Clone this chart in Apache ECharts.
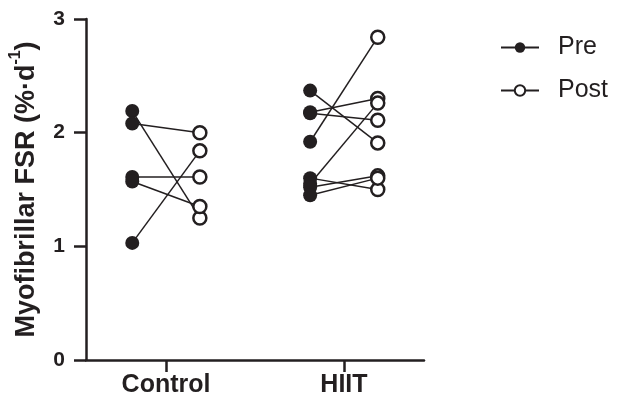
<!DOCTYPE html>
<html>
<head>
<meta charset="utf-8">
<script src="https://cdn.jsdelivr.net/npm/echarts@6/dist/echarts.min.js"></script>
<style>
  html, body { margin: 0; padding: 0; background: #fff; }
  #main { width: 617px; height: 406px; }
</style>
</head>
<body>
<div id="main"></div>
<script>
// groups on the x axis (Control at 1, HIIT at 2)
const categories = ['Control', 'HIIT'];
const yTicks = [0, 1, 2, 3];

// paired values, same index = same subject
const controlPre = [2.19, 2.08, 1.61, 1.57, 1.03];
const controlPost = [1.25, 2.00, 1.61, 1.35, 1.84];
const hiitPre = [2.37, 2.18, 2.17, 1.92, 1.60, 1.55, 1.52, 1.45];
const hiitPost = [1.91, 2.30, 2.11, 2.84, 1.50, 2.26, 1.62, 1.60];

const ink = '#231f20';
const off = 0.19;

var chartDom = document.getElementById('main');
var myChart = echarts.init(chartDom);

const groups = [
  { x: 1, pre: controlPre, post: controlPost },
  { x: 2, pre: hiitPre, post: hiitPost }
];

let prePts = [], postPts = [], links = [];
groups.forEach(g => {
  g.pre.forEach((v, i) => {
    const a = [g.x - off, v], b = [g.x + off, g.post[i]];
    prePts.push(a);
    postPts.push(b);
    links.push({
      type: 'line',
      data: [a, b],
      symbol: 'none',
      silent: true,
      z: 1,
      lineStyle: { color: ink, width: 1.5 }
    });
  });
});

var option = {
  backgroundColor: '#FFF',
  animation: false,
  grid: { left: 83, right: 193, top: 19, bottom: 46 },
  legend: {
    data: ['Pre', 'Post'],
    orient: 'vertical',
    left: 495,
    top: 30,
    itemWidth: 38,
    itemHeight: 13,
    itemGap: 18,
    lineStyle: { color: ink, width: 2, opacity: 1 },
    textStyle: { fontFamily: 'Liberation Sans', fontSize: 25, color: ink, padding: [0, 0, 0, 14] }
  },
  xAxis: {
    type: 'value',
    min: 0.55,
    max: 2.45,
    splitLine: { show: false },
    axisLine: { onZero: false, lineStyle: { color: ink, width: 2.5 } },
    axisTick: { show: true, customValues: [1, 2], length: 12, lineStyle: { color: ink, width: 2.5 } },
    axisLabel: {
      customValues: [1, 2],
      formatter: v => categories[Math.round(v) - 1],
      fontFamily: 'Liberation Sans', fontWeight: 'bold', fontSize: 25, color: ink, margin: 13
    }
  },
  yAxis: {
    type: 'value',
    min: yTicks[0],
    max: yTicks[yTicks.length - 1],
    interval: 1,
    splitLine: { show: false },
    axisLine: { show: true, lineStyle: { color: ink, width: 2.5 } },
    axisTick: { show: true, length: 12, lineStyle: { color: ink, width: 2.5 } },
    axisLabel: { fontFamily: 'Liberation Sans', fontWeight: 'bold', fontSize: 21, color: ink, margin: 21 },
    name: '{a|Myofibrillar FSR (%·d}{s|-1}{a|)}',
    nameLocation: 'middle',
    nameRotate: 90,
    nameGap: 46,
    nameTextStyle: {
      rich: {
        a: { fontFamily: 'Liberation Sans', fontWeight: 'bold', fontSize: 27, color: ink, verticalAlign: 'bottom', lineHeight: 32 },
        s: { fontFamily: 'Liberation Sans', fontWeight: 'bold', fontSize: 16, color: ink, verticalAlign: 'top', lineHeight: 32 }
      }
    }
  },
  series: links.concat([
    {
      name: 'Pre',
      type: 'line',
      data: prePts,
      symbol: 'circle',
      symbolSize: 14,
      z: 3,
      itemStyle: { color: ink },
      lineStyle: { opacity: 0, color: ink }
    },
    {
      name: 'Post',
      type: 'line',
      data: postPts,
      symbol: 'circle',
      symbolSize: 13,
      z: 3,
      itemStyle: { color: '#fff', borderColor: ink, borderWidth: 2.5 },
      lineStyle: { opacity: 0, color: ink }
    }
  ])
};
option && myChart.setOption(option);
</script>
</body>
</html>
